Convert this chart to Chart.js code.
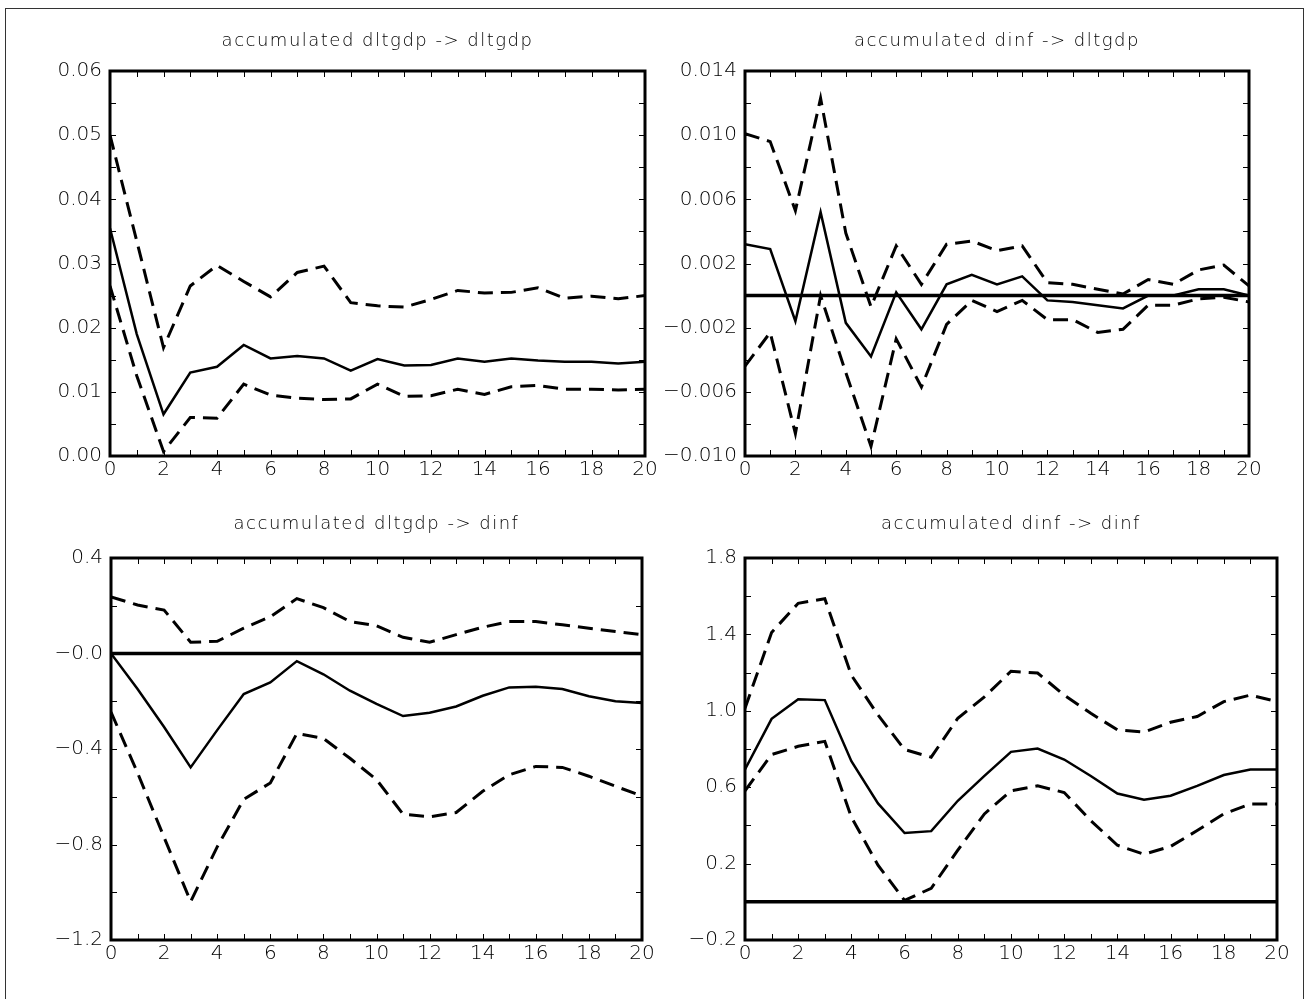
<!DOCTYPE html>
<html>
<head>
<meta charset="utf-8">
<script src="https://cdn.jsdelivr.net/npm/chart.js@4.4.1/dist/chart.umd.min.js"></script>
<style>
  html, body { margin: 0; padding: 0; background: #fff; }
  body { width: 1306px; height: 999px; position: relative; overflow: hidden; }
  canvas { position: absolute; left: 0; top: 0; }
  #moldura { position: absolute; left: 5px; top: 8px; width: 1297px; height: 1100px; border: 1px solid #333; }
</style>
</head>
<body>
<div id="moldura"></div>
<canvas id="graficoTL" width="1306" height="999"></canvas>
<canvas id="graficoTR" width="1306" height="999"></canvas>
<canvas id="graficoBL" width="1306" height="999"></canvas>
<canvas id="graficoBR" width="1306" height="999"></canvas>
<script>
// horizontes da resposta ao impulso
const horizontes = [0, 1, 2, 3, 4, 5, 6, 7, 8, 9, 10, 11, 12, 13, 14, 15, 16, 17, 18, 19, 20];
const xTicks = [0, 2, 4, 6, 8, 10, 12, 14, 16, 18, 20];

const titulos = [
    'accumulated dltgdp -> dltgdp',
    'accumulated dinf -> dltgdp',
    'accumulated dltgdp -> dinf',
    'accumulated dinf -> dinf'
];

// accumulated dltgdp -> dltgdp
const tlMid = [0.0355, 0.0190, 0.0065, 0.0130, 0.0139, 0.0173, 0.0152, 0.0156, 0.0152, 0.0133, 0.0151, 0.0141, 0.0142, 0.0152, 0.0147, 0.0152, 0.0149, 0.0147, 0.0147, 0.0144, 0.0147];
const tlUp = [0.0500, 0.0335, 0.0169, 0.0265, 0.0297, 0.0272, 0.0248, 0.0286, 0.0296, 0.0239, 0.0234, 0.0232, 0.0244, 0.0258, 0.0254, 0.0255, 0.0262, 0.0246, 0.0249, 0.0245, 0.0250];
const tlLo = [0.0265, 0.0125, 0.0007, 0.0060, 0.0059, 0.0112, 0.0095, 0.0090, 0.0088, 0.0089, 0.0112, 0.0093, 0.0094, 0.0104, 0.0096, 0.0108, 0.0110, 0.0104, 0.0104, 0.0103, 0.0104];
const tlYTicks = [0, 0.01, 0.02, 0.03, 0.04, 0.05, 0.06];
const tlYLabels = ['0.00', '0.01', '0.02', '0.03', '0.04', '0.05', '0.06'];

// accumulated dinf -> dltgdp
const trMid = [0.0032, 0.0029, -0.0016, 0.0052, -0.0017, -0.0038, 0.0002, -0.0021, 0.0007, 0.0013, 0.0007, 0.0012, -0.0003, -0.0004, -0.0006, -0.0008, 0.0000, 0.0000, 0.0004, 0.0004, 0.0000];
const trUp = [0.0101, 0.0096, 0.0053, 0.0123, 0.0039, -0.0007, 0.0031, 0.0007, 0.0032, 0.0034, 0.0028, 0.0031, 0.0008, 0.0007, 0.0004, 0.0001, 0.0010, 0.0007, 0.0016, 0.0019, 0.0006];
const trLo = [-0.0044, -0.0023, -0.0086, 0.0000, -0.0048, -0.0094, -0.0027, -0.0057, -0.0018, -0.0003, -0.0010, -0.0003, -0.0015, -0.0015, -0.0023, -0.0021, -0.0006, -0.0006, -0.0002, -0.0001, -0.0004];
const trYTicks = [-0.010, -0.006, -0.002, 0.002, 0.006, 0.010, 0.014];
const trYLabels = ['\u22120.010', '\u22120.006', '\u22120.002', '0.002', '0.006', '0.010', '0.014'];

// accumulated dltgdp -> dinf
const blMid = [0.000, -0.149, -0.308, -0.477, -0.321, -0.170, -0.121, -0.032, -0.087, -0.156, -0.211, -0.262, -0.248, -0.222, -0.177, -0.142, -0.139, -0.149, -0.179, -0.200, -0.207];
const blUp = [0.237, 0.203, 0.182, 0.047, 0.051, 0.106, 0.154, 0.230, 0.192, 0.134, 0.116, 0.068, 0.047, 0.079, 0.110, 0.134, 0.134, 0.120, 0.106, 0.092, 0.079];
const blLo = [-0.245, -0.500, -0.770, -1.039, -0.810, -0.611, -0.542, -0.335, -0.356, -0.439, -0.528, -0.673, -0.684, -0.666, -0.577, -0.508, -0.473, -0.477, -0.514, -0.556, -0.597];
const blYTicks = [-1.2, -0.8, -0.4, 0, 0.4];
const blYLabels = ['\u22121.2', '\u22120.8', '\u22120.4', '\u22120.0', '0.4'];

// accumulated dinf -> dinf
const brMid = [0.693, 0.958, 1.061, 1.056, 0.736, 0.515, 0.360, 0.370, 0.529, 0.659, 0.785, 0.802, 0.745, 0.659, 0.567, 0.534, 0.555, 0.607, 0.664, 0.693, 0.693];
const brUp = [1.013, 1.410, 1.563, 1.587, 1.186, 0.978, 0.797, 0.757, 0.961, 1.073, 1.207, 1.198, 1.082, 0.987, 0.900, 0.889, 0.940, 0.970, 1.048, 1.082, 1.048];
const brLo = [0.581, 0.771, 0.814, 0.840, 0.443, 0.192, 0.007, 0.071, 0.270, 0.460, 0.581, 0.607, 0.572, 0.425, 0.296, 0.249, 0.290, 0.373, 0.460, 0.512, 0.512];
const brYTicks = [-0.2, 0.2, 0.6, 1.0, 1.4, 1.8];
const brYLabels = ['\u22120.2', '0.2', '0.6', '1.0', '1.4', '1.8'];

const fonte = "'DejaVu Sans', 'Liberation Sans', sans-serif";
const W = 1306, H = 999;
const LARG_EIXO_Y = 100, ALT_EIXO_X = 30;

// moldura do painel: borda grossa, marcas para dentro, linha do zero e titulo
const molduraPlugin = {
    id: 'molduraPainel',
    afterDatasetsDraw(chart, args, opts) {
        const ctx = chart.ctx;
        const a = chart.chartArea;
        const xs = chart.scales.x;
        const ys = chart.scales.y;
        ctx.save();
        ctx.strokeStyle = '#000';
        ctx.fillStyle = '#000';

        if (opts.zero) {
            ctx.lineWidth = 3.5;
            const y0 = ys.getPixelForValue(0);
            ctx.beginPath();
            ctx.moveTo(a.left, y0);
            ctx.lineTo(a.right, y0);
            ctx.stroke();
        }

        ctx.lineWidth = 1;
        ctx.beginPath();
        for (let h = 1; h < 20; h++) {
            const px = Math.round(xs.getPixelForValue(h)) + 0.5;
            ctx.moveTo(px, a.top); ctx.lineTo(px, a.top + 6);
            ctx.moveTo(px, a.bottom); ctx.lineTo(px, a.bottom - 6);
        }
        const n = Math.round((ys.max - ys.min) / opts.passo);
        for (let k = 1; k < n; k++) {
            const py = Math.round(ys.getPixelForValue(ys.min + k * opts.passo)) + 0.5;
            ctx.moveTo(a.left, py); ctx.lineTo(a.left + 6, py);
            ctx.moveTo(a.right, py); ctx.lineTo(a.right - 6, py);
        }
        ctx.stroke();

        ctx.lineWidth = 3;
        ctx.strokeRect(a.left, a.top, a.right - a.left, a.bottom - a.top);

        ctx.font = '200 18px ' + fonte;
        ctx.letterSpacing = '1.5px';
        ctx.textAlign = 'center';
        ctx.textBaseline = 'middle';
        ctx.fillText(opts.titulo, (a.left + a.right) / 2, opts.tituloY);
        ctx.restore();
    }
};

function pontos(valores) {
    return horizontes.map((h, i) => ({ x: h, y: valores[i] }));
}

function criarPainel(idCanvas, cfg) {
    const area = cfg.area;
    const dados = {
        datasets: [
            { data: pontos(cfg.mid), borderColor: '#000', borderWidth: 2.5 },
            { data: pontos(cfg.up), borderColor: '#000', borderWidth: 3, borderDash: [15, 8] },
            { data: pontos(cfg.lo), borderColor: '#000', borderWidth: 3, borderDash: [15, 8] }
        ]
    };

    const fonteTicks = { family: fonte, size: 20, weight: 200 };

    const config = {
        type: 'line',
        data: dados,
        plugins: [molduraPlugin],
        options: {
            responsive: false,
            animation: false,
            devicePixelRatio: 1,
            elements: { point: { radius: 0 }, line: { tension: 0, fill: false, borderCapStyle: 'butt' } },
            layout: {
                padding: {
                    left: area.l - LARG_EIXO_Y,
                    top: area.t,
                    right: W - area.r,
                    bottom: H - area.b - ALT_EIXO_X
                }
            },
            plugins: {
                legend: { display: false },
                tooltip: { enabled: false },
                molduraPainel: { titulo: cfg.titulo, tituloY: cfg.tituloY, passo: cfg.passo, zero: cfg.zero }
            },
            scales: {
                x: {
                    type: 'linear',
                    min: 0,
                    max: 20,
                    afterBuildTicks: s => { s.ticks = xTicks.map(v => ({ value: v })); },
                    afterFit: s => { s.height = ALT_EIXO_X; },
                    grid: { display: false, drawTicks: false },
                    border: { display: false },
                    ticks: {
                        padding: 2,
                        maxRotation: 0,
                        autoSkip: false,
                        color: '#000',
                        font: fonteTicks,
                        callback: v => String(v)
                    }
                },
                y: {
                    type: 'linear',
                    min: cfg.min,
                    max: cfg.max,
                    afterBuildTicks: s => { s.ticks = cfg.yTicks.map(v => ({ value: v })); },
                    afterFit: s => { s.width = LARG_EIXO_Y; },
                    grid: { display: false, drawTicks: false },
                    border: { display: false },
                    ticks: {
                        padding: 8,
                        autoSkip: false,
                        color: '#000',
                        font: fonteTicks,
                        callback: (v, i) => cfg.yLabels[i]
                    }
                }
            }
        }
    };

    return new Chart(document.getElementById(idCanvas), config);
}

criarPainel('graficoTL', {
    titulo: titulos[0], tituloY: 41, area: { l: 110, t: 71, r: 645, b: 456 },
    min: 0, max: 0.06, passo: 0.005, zero: false,
    yTicks: tlYTicks, yLabels: tlYLabels, mid: tlMid, up: tlUp, lo: tlLo
});
criarPainel('graficoTR', {
    titulo: titulos[1], tituloY: 41, area: { l: 745, t: 71, r: 1249, b: 456 },
    min: -0.010, max: 0.014, passo: 0.002, zero: true,
    yTicks: trYTicks, yLabels: trYLabels, mid: trMid, up: trUp, lo: trLo
});
criarPainel('graficoBL', {
    titulo: titulos[2], tituloY: 524, area: { l: 111, t: 558, r: 642, b: 940 },
    min: -1.2, max: 0.4, passo: 0.2, zero: true,
    yTicks: blYTicks, yLabels: blYLabels, mid: blMid, up: blUp, lo: blLo
});
criarPainel('graficoBR', {
    titulo: titulos[3], tituloY: 524, area: { l: 745, t: 558, r: 1277, b: 940 },
    min: -0.2, max: 1.8, passo: 0.2, zero: true,
    yTicks: brYTicks, yLabels: brYLabels, mid: brMid, up: brUp, lo: brLo
});
</script>
</body>
</html>
